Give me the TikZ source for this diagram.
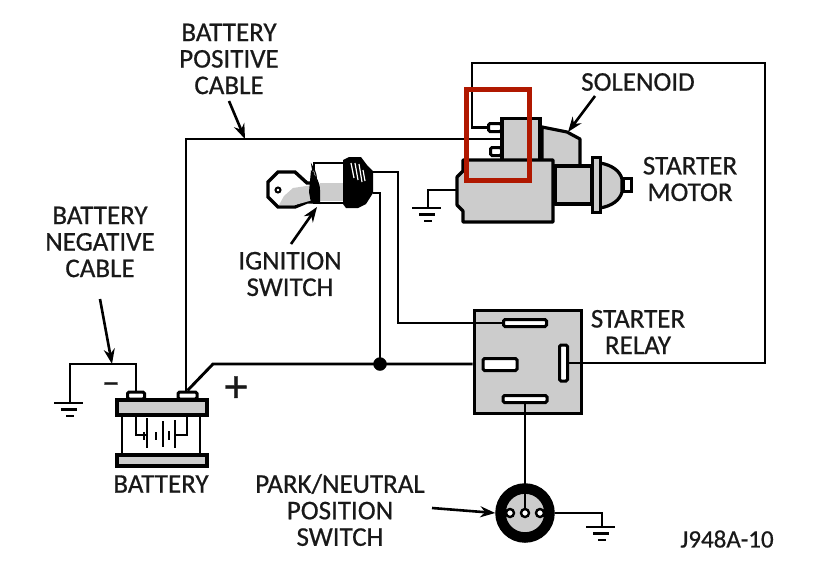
\documentclass[tikz,border=0pt]{standalone}
\usepackage{fontspec}
\setmainfont[RawFeature={embolden=0.6}]{Carlito}
\usetikzlibrary{arrows.meta, positioning, calc}
\definecolor{stipple}{gray}{0.8}
\definecolor{markred}{RGB}{176,24,0}

\begin{document}
\begin{tikzpicture}[
            x=1pt,
            y=-1pt,
            label/.style={
				align=center,
				inner sep=0pt,
				font=\fontsize{27}{26.5}\selectfont,
				text=black!90
			},
            wire/.style={
				line width=2.9pt,
				line join=miter
			},
            thinwire/.style={
				line width=1.8pt
			},
            arrow/.style={
				line width=2.6pt,
				-{Stealth[length=15pt,width=11pt]}
			},
            body/.style={
				draw=black,
				line width=3.2pt,
				fill=stipple,
				line join=round
			},
            terminal/.style={
				rectangle,
				rounded corners=1.5pt,
				draw=black,
				line width=3pt,
				fill=white,
				inner sep=0pt
			},
            relaybox/.style={
				rectangle,
				draw=black,
				line width=3pt,
				fill=stipple,
				inner sep=0pt,
				minimum width=107pt,
				minimum height=103pt
			},
            batterybar/.style={
				rectangle,
				draw=black,
				line width=4pt,
				fill=stipple,
				inner sep=0pt,
				minimum width=90pt
			},
            contact/.style={
				circle,
				draw=black,
				line width=2.4pt,
				fill=white,
				inner sep=0pt,
				minimum size=8pt
			}
        ]

        \useasboundingbox (0,0) rectangle (814,582);

        % labels
        \node (posLabel) [label] at (229,59) {BATTERY\\POSITIVE\\CABLE};
        \node (negLabel) [label] at (100,242) {BATTERY\\NEGATIVE\\CABLE};
        \node (solLabel) [label] at (638,82) {SOLENOID};
        \node (motorLabel) [label] at (690,179) {STARTER\\MOTOR};
        \node (ignLabel) [label] at (290,274) {IGNITION\\SWITCH};
        \node (relayLabel) [label] at (638,332) {STARTER\\RELAY};
        \node (batLabel) [label] at (161,484) {BATTERY};
        \node (pnLabel) [label] at (340,510) {PARK/NEUTRAL\\POSITION\\SWITCH};
        \node (figLabel) [label, font=\fontsize{25}{26}\selectfont] at (727,539) {J948A-10};
        \node (minusSign) [label, font=\fontsize{36}{36}\selectfont] at (111,388) {–};
        \node (plusSign) [label, font=\fontsize{46}{46}\selectfont] at (236,389) {+};

        % starter motor and solenoid
        \draw [body] (542,127) -- (567,132) -- (580,139) -- (580,166) -- (542,166) -- cycle;
        \node (solBody) [rectangle, draw=black, line width=3.2pt, fill=stipple, inner sep=0pt, minimum width=38pt, minimum height=43pt] at (521,140) {};
        \draw [body] (555,166) rectangle (592,204);
        \draw [body] (600,163) .. controls (612,165) and (620,171) .. (622,179) -- (622,192) .. controls (620,200) and (612,206) .. (600,208) -- cycle;
        \node (motorTip) [rectangle, draw=black, line width=3pt, fill=white, inner sep=0pt, minimum width=8pt, minimum height=13pt] at (627,185) {};
        \node (motorFlange) [rectangle, draw=black, line width=3pt, fill=stipple, inner sep=0pt, minimum width=8pt, minimum height=55pt] at (596,185) {};
        \draw [body] (463,160) -- (553,160) -- (553,222) -- (463,222) -- (463,211) -- (457,205) -- (457,177) -- (463,171) -- cycle;
        \coordinate (motorGnd) at (457,190);
        \node (solTerm1) [terminal, minimum width=13pt, minimum height=8pt] at (495,127.5) {};
        \node (solTerm2) [terminal, minimum width=11pt, minimum height=8pt] at (496,151.5) {};

        % ignition switch
        \draw [wire, line width=3.4pt, fill=white] (268,182) -- (278,172) -- (295,172) -- (307,183) -- (315,183) -- (315,202) -- (307,202) -- (295,207) -- (278,207) -- (268,197) -- cycle;
        \fill [stipple] (284,196) -- (293,188) -- (313,185) -- (313,200) -- (295,205) -- (279,205) -- cycle;
        \node (keyHole) [circle, draw=black, line width=2pt, fill=white, inner sep=0pt, minimum size=5pt] at (278,190) {};
        \draw [wire, fill=white] (314,163) rectangle (350,203);
        \fill [stipple] (320,183) rectangle (346,201);
        \fill [black] (311,170) .. controls (316,176) and (320,182) .. (320,190) -- (320,204) -- (311,203) -- (309,192) -- cycle;
        \draw [line width=1.2pt, fill=white] (312,166) .. controls (316,172) and (317,178) .. (316,181) -- (313,172) -- cycle;
        \fill [black] (343,160) -- (349,157) -- (361,157) -- (367,165) -- (373,171) -- (373,193) -- (366,204) -- (358,208) -- (346,208) -- (343,204) -- cycle;
        \coordinate (ignOut1) at (373,172);
        \coordinate (ignOut2) at (373,193);
        \draw [white, line width=1.2pt] (351,163) -- (354,178);
        \draw [white, line width=1.2pt] (355,163) -- (358,180);
        \draw [white, line width=1.2pt] (359,164) -- (362,182);
        \draw [white, line width=1.2pt] (363,170) -- (365,181);

        % starter relay
        \node (relay) [relaybox] at (527.5,361.5) {};
        \node (relayTop) [terminal, minimum width=43pt, minimum height=7pt] at (525,323) {};
        \node (relayLeft) [terminal, minimum width=34pt, minimum height=12pt] at (500,364.5) {};
        \node (relayRight) [terminal, minimum width=8pt, minimum height=36pt] at (563.5,363) {};
        \node (relayBottom) [terminal, minimum width=44pt, minimum height=7pt] at (525,399) {};

        % battery
        \node (batTop) [batterybar, minimum height=15pt] at (161.5,407) {};
        \node (batBottom) [batterybar, minimum height=11pt] at (161.5,460) {};
        \node (termNeg) [terminal, minimum width=17pt, minimum height=7pt] at (136,395.5) {};
        \node (termPos) [terminal, minimum width=19pt, minimum height=7pt] at (187.5,395.5) {};
        \draw [wire] ([xshift=-39.5pt]batTop.south) -- ([xshift=-39.5pt]batBottom.north);
        \draw [wire] ([xshift=38.5pt]batTop.south) -- ([xshift=38.5pt]batBottom.north);
        \draw [thinwire] (136,415) |- (147,435);
        \draw [thinwire] (147,418) -- (147,448);
        \draw [thinwire] (144,432) -- (144,440);
        \draw [thinwire] (156,432) -- (156,440);
        \draw [thinwire] (163,421) -- (163,447);
        \draw [thinwire] (169,431) -- (169,440);
        \draw [thinwire] (175,420) -- (175,448);
        \draw [thinwire] (187,415) |- (175,435);

        % wiring
        \coordinate (junction) at (380,364);
        \coordinate (topLeft) at (186,139);
        \coordinate (topRight) at (472,63);
        \coordinate (farRight) at (765,63);
        \coordinate (bendPos) at (213,364);
        \coordinate (bendNeg) at (70,364);
        \coordinate (negGnd) at (70,403);
        \coordinate (motorGndTop) at (428,190);
        \coordinate (motorGndEnd) at (428,208);
        \coordinate (pnGnd) at (602,513);
        \coordinate (pnGndEnd) at (602,527);

        \draw [wire] (termPos.north -| topLeft) -- (topLeft) -- (solBody.west |- topLeft);
        \draw [wire] (termPos.north) -- (bendPos) -- (relay.west |- bendPos);
        \draw [wire] (termNeg.north) |- (bendNeg) -- (negGnd);
        \draw [wire] (solTerm1.west) -| (topRight) -- (farRight) |- (relayRight.east);
        \draw [wire] (ignOut1) -| (398,323) -- (relayTop.west);
        \draw [wire] (ignOut2) -| (junction);
        \filldraw [black] (junction) circle (6.5pt);
        \draw [wire] (relayBottom.south) -- (relayBottom.south |- 0,486);
        \draw [thinwire] (motorGnd) -- (motorGndTop) -- (motorGndEnd);

        % park/neutral switch
        \node (pnSwitch) [circle, draw=black, line width=10.5pt, fill=stipple, inner sep=0pt, minimum size=49pt] at (525,513) {};
        \draw [wire] (pnSwitch.north) -- (525,510);
        \node (pnContactL) [contact] at (510,513) {};
        \node (pnContactM) [contact] at (525,513) {};
        \node (pnContactR) [contact] at (540,513) {};
        \draw [wire] (pnSwitch.east) -- (pnGnd) -- (pnGndEnd);

        % grounds
        \foreach \gndx/\gndy in {70/403, 428/208, 602/527} {
            \draw [line width=2.8pt] (\gndx-16,\gndy) -- (\gndx+13,\gndy);
            \draw [line width=2.8pt] (\gndx-9,\gndy+6.5) -- (\gndx+7,\gndy+6.5);
            \draw [line width=2.8pt] (\gndx-4,\gndy+13) -- (\gndx+4,\gndy+13);
        }

        % label arrows
        \coordinate (posArrow) at (245,139);
        \coordinate (negArrow) at (112,364);
        \coordinate (solArrow) at (568,132);
        \coordinate (ignArrow) at (317,207);
        \draw [arrow] (229,101) -- (posArrow);
        \draw [arrow] (100,299) -- (negArrow);
        \draw [arrow] (595,96) -- (solArrow);
        \draw [arrow] (291,244) -- (ignArrow);
        \draw [arrow] (432,508) -- (pnSwitch.west);

        % red marker
        \node (marker) [rectangle, draw=markred, line width=5pt, inner sep=0pt, minimum width=63pt, minimum height=91pt] at (498,134.5) {};

        \end{tikzpicture}
\end{document}
